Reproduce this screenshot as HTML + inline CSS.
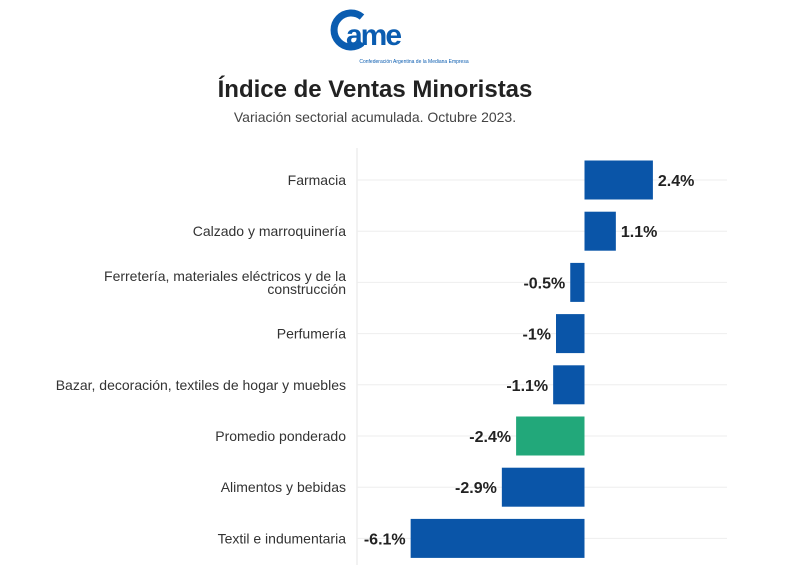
<!DOCTYPE html>
<html><head><meta charset="utf-8"><style>
body{margin:0;background:#fff;width:800px;height:578px;overflow:hidden;font-family:"Liberation Sans","DejaVu Sans",sans-serif;}
</style></head><body>
<svg width="800" height="578">
<g>
<path d="M362 17 A17 17 0 1 0 362 43" fill="none" stroke="#0a5cb0" stroke-width="7"/>
<text x="346" y="45" font-size="30" font-weight="bold" fill="#0a5cb0" letter-spacing="-2">ame</text>
<text x="414" y="63" font-size="5" fill="#0a5cb0" text-anchor="middle">Confederación Argentina de la Mediana Empresa</text>
</g>
<text x="375" y="97" font-size="24" font-weight="bold" fill="#222" text-anchor="middle">Índice de Ventas Minoristas</text>
<text x="375" y="122" font-size="14" fill="#444" text-anchor="middle">Variación sectorial acumulada. Octubre 2023.</text>
<line x1="357" y1="148" x2="357" y2="565" stroke="#e6e6e6"/>
<g id="plot"></g>
</svg>
<script>
const categories=["Farmacia","Calzado y marroquinería","Ferretería, materiales eléctricos y de la|construcción","Perfumería","Bazar, decoración, textiles de hogar y muebles","Promedio ponderado","Alimentos y bebidas","Textil e indumentaria"];
const values=[2.4,1.1,-0.5,-1,-1.1,-2.4,-2.9,-6.1];
const labels=["2.4%","1.1%","-0.5%","-1%","-1.1%","-2.4%","-2.9%","-6.1%"];
const highlight=[false,false,false,false,false,true,false,false];
const NS="http://www.w3.org/2000/svg";
const g=document.getElementById('plot');
const x=v=>584.5+v*28.5;
const y=i=>180+i*51.2;
function mk(t,a){const e=document.createElementNS(NS,t);for(const k in a)e.setAttribute(k,a[k]);g.appendChild(e);return e;}
categories.forEach((c,i)=>{
 const cy=y(i);
 const gl=mk('line',{x1:357,x2:727,y1:cy,y2:cy,stroke:'#eeeeee'});
 
 
 const v=values[i];
 const b=mk('rect',{x:Math.min(x(0),x(v)),y:cy-19.5,width:Math.abs(x(v)-x(0)),height:39,fill:highlight[i]?'#22a87a':'#0a55a8'});
 
 
 const vl=mk('text',{x:v>=0?x(v)+5:x(v)-5,y:cy+6,'font-size':16,'font-weight':'bold',fill:'#222','text-anchor':v>=0?'start':'end'});
 vl.textContent=labels[i];
 
 
 const parts=c.split('|');
 parts.forEach((p,j)=>{
  const t=mk('text',{x:346,y:cy+5+(parts.length>1?(j-0.5)*13:0),'font-size':14,fill:'#333','text-anchor':'end'});
  t.textContent=p;
  
  
 });
});
</script>
</body></html>
